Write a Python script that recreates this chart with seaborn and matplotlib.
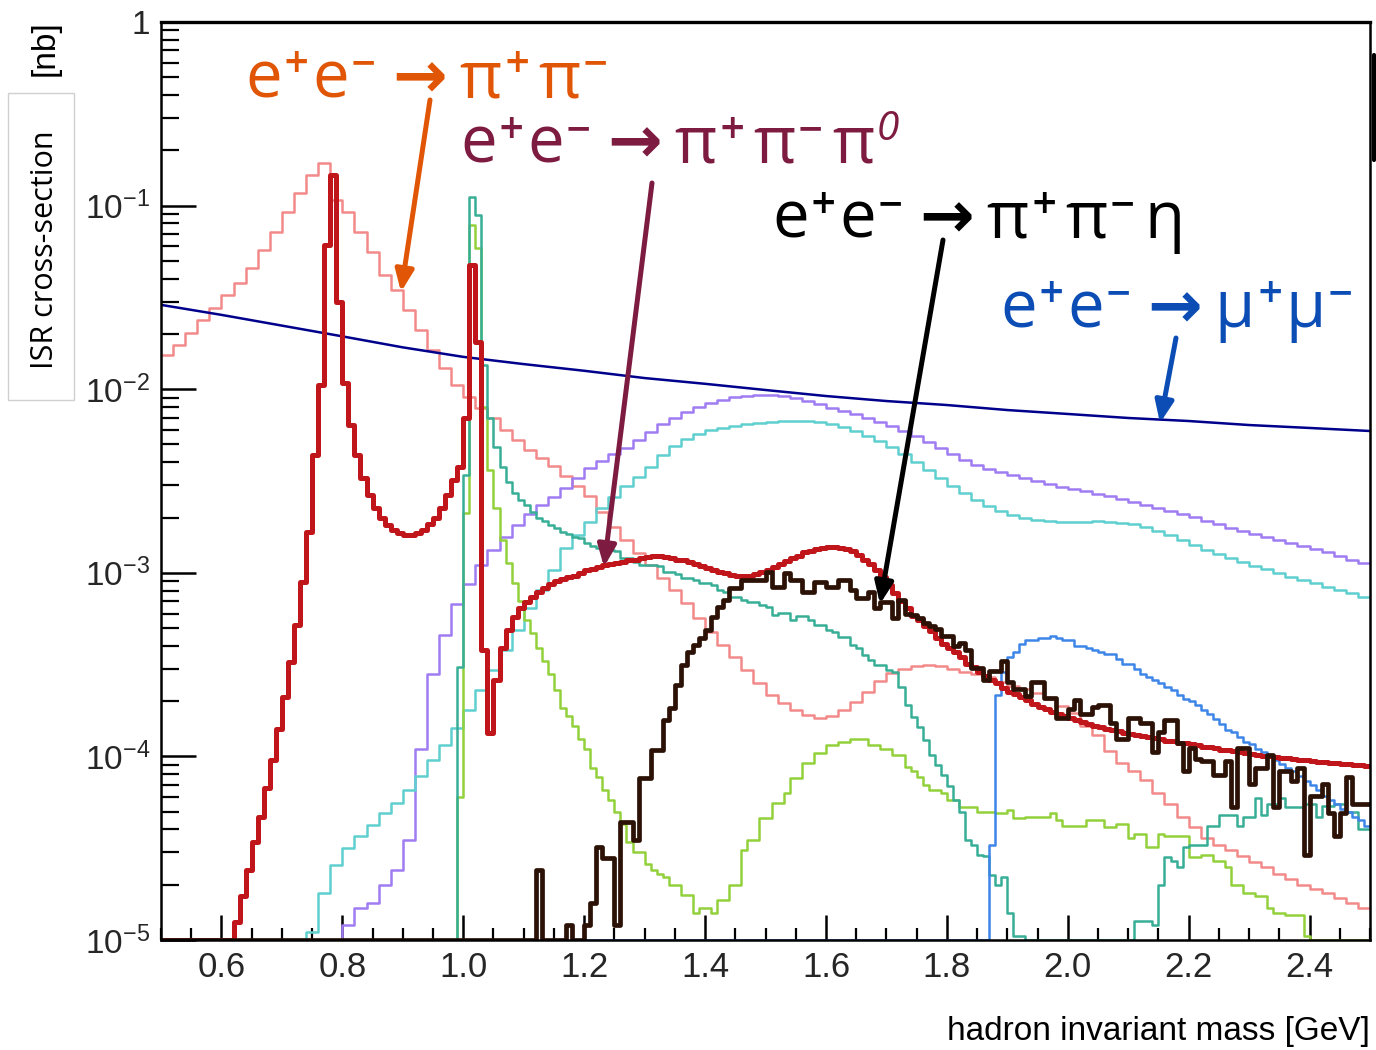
import numpy as np
import matplotlib
matplotlib.use("Agg")
import matplotlib.pyplot as plt
import seaborn as sns
from matplotlib.lines import Line2D
from matplotlib.patches import Rectangle
from matplotlib.ticker import FixedLocator, MultipleLocator, NullFormatter

# ---------------- data (ISR cross-sections in nb, histogram bins) ----------------
Y_MIN, Y_MAX = 1e-5, 1.0
X_MIN, X_MAX = 0.5, 2.5

# e+e- -> pi+pi- (light red, 0.02 GeV bins from 0.50)
pipi_start, pipi_width = 0.50, 0.02
pipi = [0.0153, 0.0174, 0.0202, 0.0238, 0.0277, 0.0326, 0.0379, 0.0457, 0.0573, 0.0718,
        0.0923, 0.117, 0.147, 0.171, 0.107, 0.092, 0.0718, 0.0559, 0.0419, 0.0347,
        0.0270, 0.0210, 0.0163, 0.0130, 0.0105, 0.00908, 0.00790, 0.00697, 0.00600, 0.00529,
        0.00467, 0.00422, 0.00382, 0.00337, 0.00297, 0.00262, 0.00214, 0.00178, 0.00151, 0.00128,
        0.00110, 9.37e-4, 8.06e-4, 6.85e-4, 5.68e-4, 4.76e-4, 4.05e-4, 3.48e-4, 2.96e-4, 2.51e-4,
        2.16e-4, 1.95e-4, 1.79e-4, 1.68e-4, 1.62e-4, 1.66e-4, 1.79e-4, 1.98e-4, 2.24e-4, 2.57e-4,
        2.86e-4, 3.0e-4, 3.1e-4, 3.15e-4, 3.1e-4, 3.0e-4, 2.9e-4, 2.8e-4, 2.7e-4, 2.54e-4,
        2.42e-4, 2.33e-4, 2.22e-4, 2.06e-4, 1.89e-4, 1.73e-4, 1.47e-4, 1.31e-4, 1.07e-4, 9.2e-5,
        8.3e-5, 7.4e-5, 6.3e-5, 5.5e-5, 4.7e-5, 4.1e-5, 3.6e-5, 3.3e-5, 3.1e-5, 2.85e-5,
        2.65e-5, 2.5e-5, 2.3e-5, 2.15e-5, 2.0e-5, 1.9e-5, 1.8e-5, 1.7e-5, 1.6e-5, 1.5e-5]

# e+e- -> pi+pi-pi0 (thick red, 0.01 GeV bins from 0.50)
pi3_start, pi3_width = 0.50, 0.01
pi3 = [0.0] * 12 + [
    1.25e-5, 1.74e-5, 2.40e-5, 3.42e-5, 4.68e-5, 6.73e-5, 9.55e-5, 1.41e-4, 2.11e-4, 3.27e-4,
    5.20e-4, 8.91e-4, 1.67e-3, 4.4e-3, 1.05e-2, 6.1e-2, 0.147, 0.030, 0.0108, 6.4e-3,
    4.4e-3, 3.3e-3, 2.65e-3, 2.25e-3, 1.99e-3, 1.82e-3, 1.71e-3, 1.65e-3, 1.61e-3, 1.61e-3,
    1.65e-3, 1.71e-3, 1.84e-3, 1.99e-3, 2.25e-3, 2.65e-3, 3.2e-3, 3.77e-3, 6.97e-3, 0.0475,
    0.0181, 3.80e-4, 1.34e-4, 2.61e-4, 3.89e-4, 4.88e-4, 5.74e-4, 6.43e-4, 6.93e-4, 7.38e-4,
    7.86e-4, 8.26e-4, 8.69e-4, 9.02e-4,
    9.2e-4, 9.5e-4, 9.6e-4, 1.0e-3, 1.03e-3, 1.05e-3, 1.08e-3, 1.10e-3, 1.12e-3, 1.13e-3,
    1.15e-3, 1.17e-3, 1.18e-3, 1.20e-3, 1.22e-3, 1.24e-3, 1.24e-3, 1.22e-3, 1.20e-3, 1.18e-3,
    1.17e-3, 1.14e-3, 1.12e-3, 1.09e-3, 1.06e-3, 1.04e-3, 1.01e-3, 1.0e-3, 9.7e-4, 9.6e-4,
    9.6e-4, 9.6e-4, 9.9e-4, 1.01e-3, 1.04e-3, 1.08e-3, 1.12e-3, 1.16e-3, 1.20e-3, 1.24e-3,
    1.29e-3, 1.31e-3, 1.35e-3, 1.37e-3, 1.38e-3, 1.38e-3, 1.37e-3, 1.35e-3, 1.31e-3, 1.25e-3,
    1.18e-3, 1.12e-3, 1.04e-3, 9.5e-4, 8.6e-4, 7.8e-4, 7.0e-4, 6.4e-4, 5.8e-4, 5.5e-4,
    5.1e-4, 4.8e-4, 4.4e-4, 4.1e-4, 3.9e-4, 3.7e-4, 3.5e-4, 3.2e-4, 3.07e-4, 2.9e-4,
    2.75e-4, 2.6e-4, 2.5e-4, 2.35e-4, 2.25e-4, 2.2e-4, 2.1e-4, 2.02e-4, 1.93e-4, 1.86e-4,
    1.81e-4, 1.75e-4, 1.70e-4, 1.66e-4, 1.62e-4, 1.58e-4, 1.54e-4, 1.50e-4, 1.46e-4, 1.44e-4,
    1.41e-4, 1.39e-4, 1.37e-4, 1.34e-4, 1.32e-4, 1.30e-4, 1.29e-4, 1.27e-4, 1.26e-4, 1.24e-4,
    1.22e-4, 1.21e-4, 1.19e-4, 1.18e-4, 1.17e-4, 1.15e-4, 1.13e-4, 1.12e-4, 1.11e-4, 1.09e-4,
    1.08e-4, 1.07e-4, 1.06e-4, 1.04e-4, 1.03e-4, 1.02e-4, 1.0e-4, 1.0e-4, 9.9e-5, 9.8e-5,
    9.8e-5, 9.7e-5, 9.5e-5, 9.5e-5, 9.4e-5, 9.3e-5, 9.3e-5, 9.2e-5, 9.2e-5, 9.1e-5,
    9.1e-5, 9.0e-5, 9.0e-5, 8.9e-5]

# e+e- -> pi+pi-eta (dark brown, 0.01 GeV bins from 0.50)
pipieta_start, pipieta_width = 0.50, 0.01
pipieta = [0.0] * 62 + [2.4e-5] + [0.0] * 4 + [1.2e-5, 0.0, 0.0] + [
    1.2e-5, 1.6e-5, 3.2e-5, 2.8e-5, 2.8e-5, 1.2e-5, 4.4e-5, 4.4e-5, 3.5e-5, 7.6e-5,
    7.6e-5, 1.08e-4, 1.08e-4, 1.58e-4, 1.84e-4, 2.45e-4, 3.15e-4, 3.71e-4, 4.04e-4, 4.42e-4,
    4.88e-4, 5.74e-4, 6.51e-4, 7.11e-4, 8.26e-4, 8.26e-4, 9.14e-4, 9.14e-4, 9.14e-4, 9.14e-4,
    1.01e-3, 8.37e-4, 8.37e-4, 1.0e-3, 9.14e-4, 9.14e-4, 7.85e-4, 7.85e-4, 8.9e-4, 8.9e-4,
    8.37e-4, 8.37e-4, 9.14e-4, 9.14e-4, 8.05e-4, 7.29e-4, 7.29e-4, 7.85e-4, 6.43e-4, 6.93e-4,
    6.93e-4, 5.67e-4, 7.11e-4, 5.97e-4, 5.9e-4, 5.67e-4, 5.33e-4, 5.1e-4, 4.94e-4, 4.53e-4,
    4.53e-4, 3.99e-4, 4.15e-4, 3.8e-4, 3.03e-4, 3.03e-4, 2.61e-4, 2.92e-4, 2.92e-4, 3.31e-4,
    2.54e-4, 2.33e-4, 2.33e-4, 2.13e-4, 2.54e-4, 2.54e-4, 2.08e-4, 2.08e-4, 1.62e-4, 1.62e-4,
    1.81e-4, 2.03e-4, 1.70e-4, 1.70e-4, 1.86e-4, 1.91e-4, 1.91e-4, 1.52e-4, 1.24e-4, 1.24e-4,
    1.62e-4, 1.62e-4, 1.52e-4, 1.52e-4, 1.06e-4, 1.36e-4, 1.58e-4, 1.58e-4, 1.18e-4, 8.3e-5,
    1.11e-4, 9.7e-5, 9.4e-5, 9.4e-5, 7.9e-5, 7.9e-5, 9.4e-5, 5.3e-5, 1.11e-4, 1.11e-4,
    7.1e-5, 8.6e-5, 8.6e-5, 1.02e-4, 5.3e-5, 8.3e-5, 8.3e-5, 7.3e-5, 8.6e-5, 2.9e-5,
    6.1e-5, 6.1e-5, 7.1e-5, 4.9e-5, 3.7e-5, 4.9e-5, 7.7e-5, 5.5e-5, 5.5e-5, 5.5e-5]

# purple channel (0.02 GeV bins from 0.78)
purple_start, purple_width = 0.78, 0.02
purple = [0.0, 1.2e-5, 1.5e-5, 1.6e-5, 2.0e-5, 2.4e-5, 3.5e-5, 1.1e-4, 2.8e-4, 4.6e-4,
          6.8e-4, 8.7e-4, 1.1e-3, 1.33e-3, 1.57e-3, 1.82e-3, 2.09e-3, 2.34e-3, 2.59e-3, 2.90e-3,
          3.28e-3, 3.72e-3, 4.06e-3, 4.44e-3, 4.78e-3, 5.29e-3, 5.85e-3, 6.46e-3, 6.97e-3, 7.52e-3,
          8.00e-3, 8.41e-3, 8.73e-3, 9.07e-3, 9.2e-3, 9.3e-3, 9.3e-3, 9.2e-3, 8.95e-3, 8.62e-3,
          8.30e-3, 7.90e-3, 7.61e-3, 7.33e-3, 6.97e-3, 6.63e-3, 6.30e-3, 5.92e-3, 5.56e-3, 5.16e-3,
          4.78e-3, 4.44e-3, 4.11e-3, 3.87e-3, 3.68e-3, 3.54e-3, 3.41e-3, 3.28e-3, 3.16e-3, 3.05e-3,
          2.93e-3, 2.86e-3, 2.79e-3, 2.69e-3, 2.62e-3, 2.52e-3, 2.43e-3, 2.34e-3, 2.25e-3, 2.17e-3,
          2.09e-3, 2.01e-3, 1.91e-3, 1.84e-3, 1.75e-3, 1.69e-3, 1.63e-3, 1.57e-3, 1.51e-3, 1.45e-3,
          1.40e-3, 1.35e-3, 1.30e-3, 1.24e-3, 1.18e-3, 1.13e-3]

# turquoise channel (0.02 GeV bins from 0.72)
turq_start, turq_width = 0.72, 0.02
turq = [0.0, 1.1e-5, 1.8e-5, 2.56e-5, 3.17e-5, 3.68e-5, 4.23e-5, 4.92e-5, 5.57e-5, 6.56e-5,
        7.82e-5, 9.55e-5, 1.15e-4, 1.43e-4, 1.79e-4, 2.30e-4, 2.96e-4, 3.80e-4, 4.88e-4, 6.43e-4,
        8.05e-4, 1.04e-3, 1.37e-3, 1.61e-3, 1.89e-3, 2.25e-3, 2.59e-3, 2.97e-3, 3.33e-3, 3.77e-3,
        4.38e-3, 4.91e-3, 5.36e-3, 5.70e-3, 6.00e-3, 6.15e-3, 6.30e-3, 6.46e-3, 6.55e-3, 6.63e-3,
        6.70e-3, 6.70e-3, 6.70e-3, 6.63e-3, 6.46e-3, 6.22e-3, 5.92e-3, 5.56e-3, 5.22e-3, 4.84e-3,
        4.44e-3, 4.01e-3, 3.63e-3, 3.28e-3, 2.97e-3, 2.72e-3, 2.49e-3, 2.31e-3, 2.17e-3, 2.06e-3,
        1.99e-3, 1.94e-3, 1.91e-3, 1.89e-3, 1.89e-3, 1.89e-3, 1.91e-3, 1.89e-3, 1.87e-3, 1.84e-3,
        1.78e-3, 1.69e-3, 1.61e-3, 1.51e-3, 1.42e-3, 1.33e-3, 1.27e-3, 1.20e-3, 1.15e-3, 1.09e-3,
        1.05e-3, 1.00e-3, 9.5e-4, 9.14e-4, 8.8e-4, 8.37e-4, 8.05e-4, 7.76e-4, 7.38e-4]

# teal channel with phi peak (0.01 GeV bins from 0.98)
teal_start, teal_width = 0.98, 0.01
teal = [0.0,
        3.07e-4, 3.41e-3, 0.111, 0.089, 0.0135, 6.97e-3, 4.84e-3, 3.77e-3, 3.12e-3, 2.72e-3,
        2.49e-3, 2.34e-3, 2.14e-3, 1.99e-3, 1.91e-3, 1.82e-3, 1.75e-3, 1.67e-3, 1.63e-3, 1.57e-3,
        1.54e-3, 1.45e-3, 1.40e-3, 1.37e-3, 1.33e-3, 1.33e-3, 1.31e-3, 1.20e-3, 1.20e-3, 1.15e-3,
        1.10e-3, 1.10e-3, 1.10e-3, 1.09e-3, 1.01e-3, 1.01e-3, 9.9e-4, 9.4e-4, 9.4e-4, 9.1e-4,
        8.8e-4, 8.8e-4, 8.6e-4, 8.05e-4, 7.85e-4, 7.38e-4, 7.38e-4, 7.11e-4, 6.93e-4, 6.93e-4,
        6.68e-4, 6.51e-4, 5.9e-4, 6.05e-4, 6.05e-4, 5.5e-4, 5.8e-4, 5.8e-4, 5.5e-4, 5.2e-4,
        5.2e-4, 4.88e-4, 4.78e-4, 4.47e-4, 4.47e-4, 4.04e-4, 3.9e-4, 3.57e-4, 3.36e-4, 3.15e-4,
        3.15e-4, 2.96e-4, 2.87e-4, 2.38e-4, 1.91e-4, 1.64e-4, 1.45e-4, 1.23e-4, 1.02e-4, 9.0e-5,
        7.9e-5, 6.9e-5, 5.8e-5, 5.0e-5, 3.5e-5, 3.3e-5, 2.9e-5, 2.85e-5, 2.25e-5, 2.0e-5,
        2.2e-5, 1.4e-5, 1.05e-5, 1.05e-5] + [0.0] * 18 + [
        1.27e-5, 1.27e-5, 1.27e-5, 1.2e-5, 2.0e-5, 2.84e-5, 2.7e-5, 2.5e-5, 3.2e-5, 3.3e-5,
        3.3e-5, 3.3e-5, 4.2e-5, 4.2e-5, 4.8e-5, 4.8e-5, 4.8e-5, 4.2e-5, 4.7e-5, 4.7e-5,
        5.9e-5, 4.8e-5, 5.5e-5, 5.5e-5, 5.9e-5, 5.3e-5, 5.3e-5, 5.3e-5, 5.5e-5, 5.5e-5,
        4.7e-5, 5.4e-5, 5.4e-5, 5.5e-5, 5.5e-5, 5.0e-5, 5.0e-5, 4.0e-5, 4.0e-5]

# yellow-green channel with phi peak (0.01 GeV bins from 0.98)
lime_start, lime_width = 0.98, 0.01
lime = [0.0,
        6.0e-5, 2.12e-3, 0.0784, 0.0588, 8.0e-3, 3.63e-3, 2.25e-3, 1.51e-3, 1.13e-3, 8.8e-4,
        7.0e-4, 5.5e-4, 4.7e-4, 3.9e-4, 3.3e-4, 2.8e-4, 2.3e-4, 1.84e-4, 1.66e-4, 1.46e-4,
        1.24e-4, 1.1e-4, 8.6e-5, 7.7e-5, 6.6e-5, 5.8e-5, 5.0e-5, 4.3e-5, 3.4e-5, 3.0e-5,
        3.0e-5, 2.6e-5, 2.4e-5, 2.3e-5, 2.2e-5, 2.0e-5, 2.0e-5, 1.76e-5, 1.76e-5, 1.4e-5,
        1.5e-5, 1.5e-5, 1.4e-5, 1.66e-5, 1.66e-5, 2.0e-5, 2.0e-5, 3.1e-5, 3.5e-5, 3.5e-5,
        4.6e-5, 4.6e-5, 5.6e-5, 5.6e-5, 6.3e-5, 7.6e-5, 7.6e-5, 9.2e-5, 9.2e-5, 1.05e-4,
        1.05e-4, 1.15e-4, 1.15e-4, 1.2e-4, 1.2e-4, 1.24e-4, 1.24e-4, 1.24e-4, 1.15e-4, 1.15e-4,
        1.1e-4, 1.1e-4, 1.02e-4, 1.02e-4, 8.8e-5, 8.3e-5, 7.7e-5, 7.0e-5, 6.6e-5, 6.6e-5,
        6.3e-5, 5.8e-5, 5.8e-5, 5.3e-5, 5.3e-5, 5.3e-5, 5.0e-5, 5.0e-5, 5.0e-5, 4.9e-5,
        4.9e-5, 5.1e-5, 4.6e-5, 4.6e-5, 4.7e-5, 4.7e-5, 4.7e-5, 4.7e-5, 4.9e-5, 4.5e-5,
        4.2e-5, 4.2e-5, 4.2e-5, 4.2e-5, 4.5e-5, 4.5e-5, 4.5e-5, 4.1e-5, 4.1e-5, 4.3e-5,
        4.3e-5, 3.6e-5, 3.8e-5, 3.8e-5, 3.2e-5, 3.2e-5, 3.8e-5, 3.7e-5, 3.7e-5, 3.7e-5,
        3.7e-5, 2.84e-5, 2.84e-5, 2.9e-5, 2.9e-5, 2.7e-5, 2.7e-5, 2.5e-5, 2.0e-5, 2.0e-5,
        1.8e-5, 1.8e-5, 1.74e-5, 1.74e-5, 1.5e-5, 1.4e-5, 1.4e-5, 1.36e-5, 1.36e-5, 1.36e-5,
        1.05e-5] + [0.0] * 10

# blue channel (0.01 GeV bins from 1.20)
blue_start, blue_width = 1.20, 0.01
blue = [0.0] * 67 + [
    3.3e-5, 2.15e-4, 2.9e-4, 3.5e-4, 3.7e-4, 4.1e-4, 4.3e-4, 4.3e-4, 4.4e-4, 4.4e-4,
    4.5e-4, 4.4e-4, 4.3e-4, 4.3e-4, 4.0e-4, 4.0e-4, 3.9e-4, 3.8e-4, 3.7e-4, 3.6e-4,
    3.6e-4, 3.4e-4, 3.2e-4, 3.2e-4, 3.0e-4, 2.8e-4, 2.7e-4, 2.6e-4, 2.5e-4, 2.4e-4,
    2.3e-4, 2.15e-4, 2.05e-4, 2.0e-4, 1.9e-4, 1.8e-4, 1.7e-4, 1.6e-4, 1.5e-4, 1.4e-4,
    1.36e-4, 1.28e-4, 1.2e-4, 1.17e-4, 1.1e-4, 1.06e-4, 1.0e-4, 9.6e-5, 9.1e-5, 8.6e-5,
    8.3e-5, 7.8e-5, 7.3e-5, 7.0e-5, 6.6e-5, 6.1e-5, 5.8e-5, 5.5e-5, 5.2e-5, 5.0e-5,
    4.7e-5, 4.5e-5, 4.2e-5]

# e+e- -> mu+mu- (smooth curve)
mumu_x = [0.5, 0.6, 0.7, 0.8, 0.9, 1.0, 1.1, 1.2, 1.3, 1.4, 1.5,
          1.6, 1.7, 1.8, 1.9, 2.0, 2.1, 2.2, 2.3, 2.4, 2.5]
mumu = [0.0288, 0.0254, 0.0222, 0.0194, 0.0169, 0.0150, 0.0137, 0.0126, 0.0115, 0.0107, 0.00990,
        0.00918, 0.00862, 0.00820, 0.00770, 0.00733, 0.00697, 0.00671, 0.00638, 0.00615, 0.00592]

x_ticks = [0.6, 0.8, 1.0, 1.2, 1.4, 1.6, 1.8, 2.0, 2.2, 2.4]
x_tick_labels = ["0.6", "0.8", "1.0", "1.2", "1.4", "1.6", "1.8", "2.0", "2.2", "2.4"]
y_ticks = [1e-5, 1e-4, 1e-3, 1e-2, 1e-1, 1.0]
y_tick_labels = ["$10^{-5}$", "$10^{-4}$", "$10^{-3}$", "$10^{-2}$", "$10^{-1}$", "1"]

# process labels: (base, superscript) pieces
lab_pipi = [("e", "+"), ("e", "−"), ("→", ""), ("π", "+"), ("π", "−")]
lab_pi3 = [("e", "+"), ("e", "−"), ("→", ""), ("π", "+"), ("π", "−"), ("π", "0")]
lab_pipieta = [("e", "+"), ("e", "−"), ("→", ""), ("π", "+"), ("π", "−"), ("η", "")]
lab_mumu = [("e", "+"), ("e", "−"), ("→", ""), ("μ", "+"), ("μ", "−")]

# ---------------- style ----------------
sns.set_style("white")
plt.rcParams["font.family"] = ["Liberation Sans", "DejaVu Sans"]
plt.rcParams["mathtext.fontset"] = "custom"
plt.rcParams["mathtext.rm"] = "Liberation Sans"
plt.rcParams["mathtext.it"] = "Liberation Sans:italic"
plt.rcParams["mathtext.default"] = "regular"

W, H = 1376, 1050
fig = plt.figure(figsize=(W / 100, H / 100), dpi=100)
ax = fig.add_axes([161 / W, 1 - 940 / H, (1370 - 161) / W, (940 - 22) / H])
ax.set_yscale("log")


def hist_xy(start, width, vals):
    v = np.clip(np.asarray(vals, dtype=float), Y_MIN, None)
    edges = start + width * np.arange(len(v) + 1)
    return edges, np.append(v, v[-1])


series = [
    (pipi_start, pipi_width, pipi, "#f28a8a", 1.8),
    (purple_start, purple_width, purple, "#a07cf2", 1.8),
    (turq_start, turq_width, turq, "#5fd0cf", 1.8),
    (lime_start, lime_width, lime, "#93d13c", 1.8),
    (teal_start, teal_width, teal, "#38ae96", 1.8),
    (blue_start, blue_width, blue, "#3d86e8", 1.8),
]
for start, width, vals, col, lw in series:
    ex, ey = hist_xy(start, width, vals)
    sns.lineplot(x=ex, y=ey, ax=ax, color=col, linewidth=lw,
                 drawstyle="steps-post", estimator=None, sort=False)

sns.lineplot(x=mumu_x, y=mumu, ax=ax, color="#00008c", linewidth=1.8,
             estimator=None, sort=False)

ex, ey = hist_xy(pi3_start, pi3_width, pi3)
sns.lineplot(x=ex, y=ey, ax=ax, color="#c0161b", linewidth=3.6,
             drawstyle="steps-post", estimator=None, sort=False)
ex, ey = hist_xy(pipieta_start, pipieta_width, pipieta)
sns.lineplot(x=ex, y=ey, ax=ax, color="#2c1206", linewidth=3.4,
             drawstyle="steps-post", estimator=None, sort=False)

# ---------------- axes ----------------
ax.set_xlim(X_MIN, X_MAX)
ax.set_ylim(Y_MIN, Y_MAX)
ax.set_xlabel("")
ax.set_ylabel("")
ax.xaxis.set_major_locator(FixedLocator(x_ticks))
ax.set_xticklabels(x_tick_labels)
ax.xaxis.set_minor_locator(MultipleLocator(0.05))
ax.yaxis.set_major_locator(FixedLocator(y_ticks))
ax.set_yticklabels(y_tick_labels)
minor_y = [m * 10.0 ** e for e in range(-5, 0) for m in range(2, 10)]
ax.yaxis.set_minor_locator(FixedLocator(minor_y))
ax.yaxis.set_minor_formatter(NullFormatter())

ax.tick_params(axis="x", which="major", direction="in", length=18, width=1.8, color="black",
               labelsize=25, pad=8, top=False, bottom=True)
ax.tick_params(axis="x", which="minor", direction="in", length=9, width=1.6, color="black",
               top=False, bottom=True)
ax.tick_params(axis="y", which="major", direction="in", length=25, width=1.8, color="black",
               labelsize=24, pad=8, right=False, left=True)
ax.tick_params(axis="y", which="minor", direction="in", length=13, width=1.6, color="black",
               right=False, left=True)
for side in ["left", "right", "top", "bottom"]:
    ax.spines[side].set_visible(True)
    ax.spines[side].set_color("black")
    ax.spines[side].set_linewidth(1.8)
ax.spines["top"].set_linewidth(2.4)


def fx(px):
    return px / W


def fy(py):
    return 1 - py / H


# axis titles
fig.text(fx(1370), fy(1040), "hadron invariant mass [GeV]", ha="right", va="baseline",
         fontsize=24, color="black")
fig.text(fx(45), fy(48), "[nb]", rotation=90, ha="center", va="center",
         fontsize=24, color="black")
fig.add_artist(Rectangle((fx(8), fy(400)), fx(74) - fx(8), fy(93) - fy(400),
                         transform=fig.transFigure, facecolor="white",
                         edgecolor="#d0d0d0", linewidth=1.0))
fig.text(fx(45), fy(250), "ISR cross-section", rotation=90, ha="center", va="center",
         fontsize=22, color="black", family=["Open Sans", "DejaVu Sans"])

# right-hand edge fragment
fig.add_artist(Line2D([fx(1374), fx(1374)], [fy(55), fy(160)], transform=fig.transFigure,
                      color="black", linewidth=3))

renderer = fig.canvas.get_renderer()
LABEL_FONT = ["Open Sans", "DejaVu Sans"]
EXTRA_GAP = {"π": 6}


def draw_label(pieces, x0, base_y, color, size):
    # base glyphs with raised, smaller superscripts; positions in figure pixels
    em = size * 100 / 72.0
    x = x0
    for base, sup in pieces:
        if base == "→":
            x += 0.2 * em
            t = fig.text(fx(x), fy(base_y), base, ha="left", va="baseline", fontsize=size,
                         color=color, family=["DejaVu Sans"], weight="bold")
            x += t.get_window_extent(renderer).width + 0.2 * em
            continue
        t = fig.text(fx(x), fy(base_y), base, ha="left", va="baseline", fontsize=size,
                     color=color, family=LABEL_FONT)
        x += t.get_window_extent(renderer).width + 1
        if sup == "0":
            s = fig.text(fx(x + 1), fy(base_y - 0.36 * em), sup, ha="left", va="baseline",
                         fontsize=size * 0.62, color=color, family=LABEL_FONT, style="italic")
            x += s.get_window_extent(renderer).width + 2
        elif sup:
            s = fig.text(fx(x), fy(base_y - 0.38 * em), sup, ha="left", va="baseline",
                         fontsize=size * 0.5, color=color, family=["DejaVu Sans"],
                         weight="bold")
            x += s.get_window_extent(renderer).width + 2
        x += EXTRA_GAP.get(base, 0)


labels = [
    (lab_pipi, "#e05606", 245, 97, (430, 100), (401, 292)),
    (lab_pi3, "#7d1b40", 460, 163, (652, 183), (604, 567)),
    (lab_pipieta, "#000000", 772, 238, (943, 240), (880, 604)),
    (lab_mumu, "#0b4db5", 1000, 327, (1176, 338), (1160, 423)),
]
for pieces, col, tx, ty, p0, p1 in labels:
    draw_label(pieces, tx, ty, col, 47)
    ax.annotate("", xy=(fx(p1[0]), fy(p1[1])), xycoords="figure fraction",
                xytext=(fx(p0[0]), fy(p0[1])), textcoords="figure fraction",
                arrowprops=dict(arrowstyle="-|>,head_length=1.3,head_width=0.55",
                                color=col, lw=3.6, shrinkA=0, shrinkB=0))

fig.savefig("out.png", dpi=100)
